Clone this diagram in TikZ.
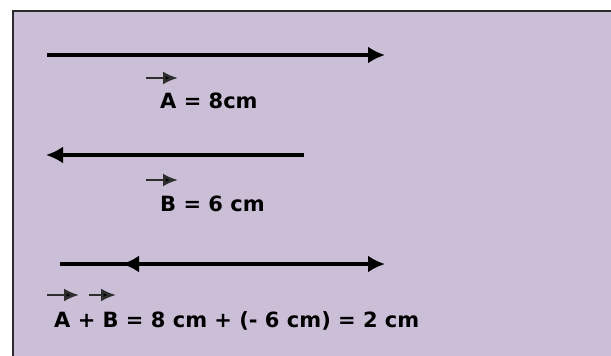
\documentclass[tikz,border=0pt]{standalone}
\usepackage{fontspec}
\setmainfont{DejaVu Sans}
\usetikzlibrary{arrows.meta,positioning}
\definecolor{panel}{HTML}{CBBFD8}
\definecolor{frame}{HTML}{2B2B2B}
\definecolor{vecgray}{HTML}{2E2E2E}

\begin{document}
\begin{tikzpicture}[x=1pt,y=-1pt,>=Latex,
  bigvec/.style={line width=3.2pt,-{Latex[length=17pt,width=17pt]}},
  tinyvec/.style={vecgray,line width=2.6pt,-{Latex[length=15pt,width=13pt,fill=black]}},
  lbl/.style={font=\bfseries\fontsize{21}{24}\selectfont,anchor=base west,inner sep=0pt}]
\useasboundingbox (0,0) rectangle (611,356);
\fill[white] (0,0) rectangle (611,356);
\fill[panel] (13,11) rectangle (611,356);
\draw[frame,line width=2pt] (611,11) -- (13,11) -- (13,356);
% vector A
\coordinate (a0) at (47,55);
\coordinate (a1) at (385,55);
\draw[bigvec] (a0) -- (a1);
\node[lbl] (labA) at (160,108) {A = 8cm};
\coordinate (ua0) at (146,78);
\coordinate (ua1) at (178,78);
\draw[tinyvec] (ua0) -- (ua1);
% vector B
\coordinate (b0) at (304,155);
\coordinate (b1) at (46,155);
\draw[bigvec] (b0) -- (b1);
\node[lbl] (labB) at (160,211) {B = 6 cm};
\coordinate (ub0) at (146,180);
\coordinate (ub1) at (178,180);
\draw[tinyvec] (ub0) -- (ub1);
% sum
\coordinate (s0) at (60,264);
\coordinate (s1) at (385,264);
\coordinate (m0) at (200,264);
\coordinate (m1) at (122,264);
\draw[bigvec] (s0) -- (s1);
\draw[bigvec] (m0) -- (m1);
\node[lbl] (labS) at (54,327) {A + B = 8 cm + (- 6 cm) = 2 cm};
\foreach \p/\q in {47/79,89/116}{
  \coordinate (us0) at (\p,295);
  \coordinate (us1) at (\q,295);
  \draw[tinyvec] (us0) -- (us1);
}
\end{tikzpicture}
\end{document}
